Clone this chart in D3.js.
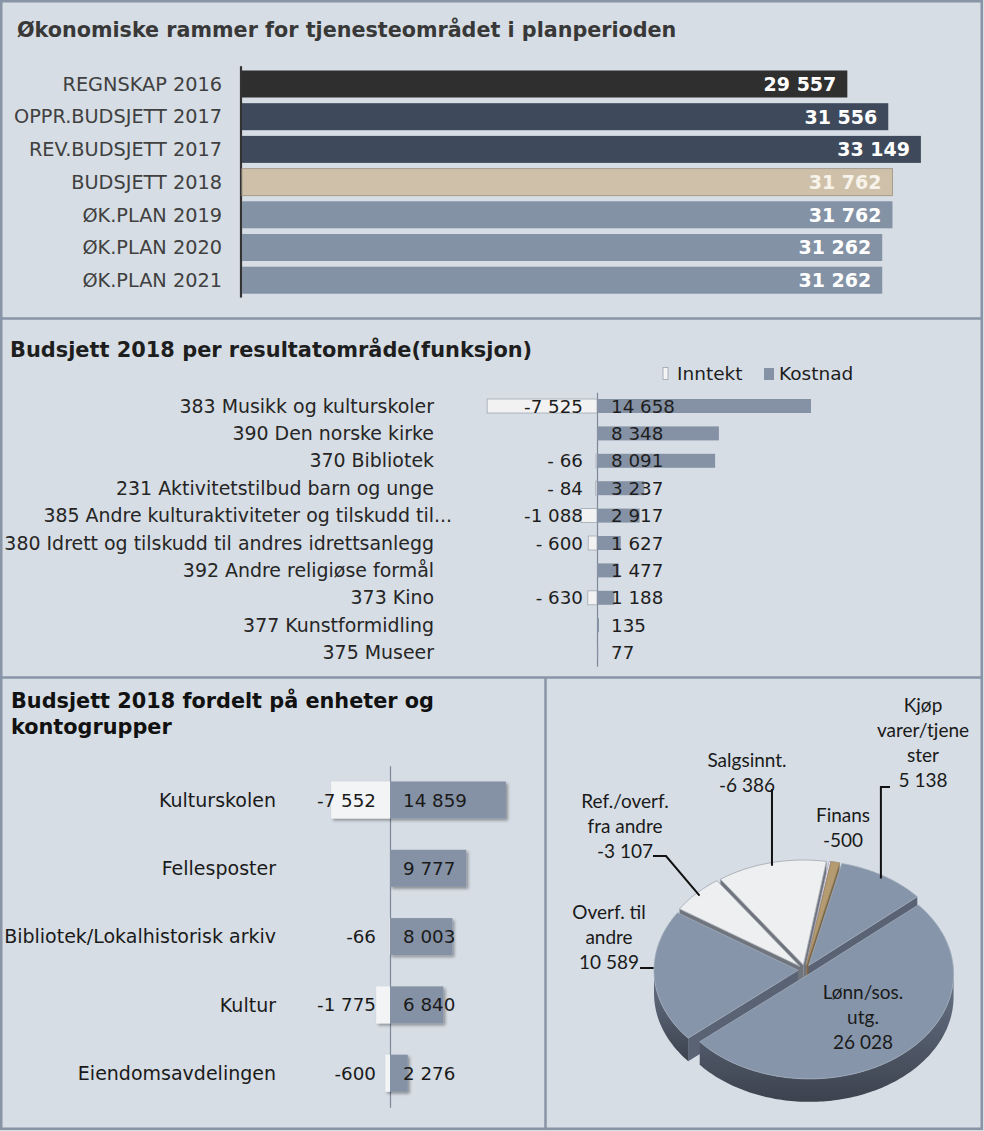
<!DOCTYPE html>
<html><head><meta charset="utf-8">
<script src="https://cdn.jsdelivr.net/npm/d3@7"></script>
<style>body{margin:0;background:#fff}svg{display:block}</style>
</head><body><svg id="c" width="984" height="1131"></svg>
<script>
// ---------------- data ----------------
const title1 = "Økonomiske rammer for tjenesteområdet i planperioden";
const frameCategories = ["REGNSKAP 2016","OPPR.BUDSJETT 2017","REV.BUDSJETT 2017","BUDSJETT 2018","ØK.PLAN 2019","ØK.PLAN 2020","ØK.PLAN 2021"];
const frameValues = [29557,31556,33149,31762,31762,31262,31262];

const title2 = "Budsjett 2018 per resultatområde(funksjon)";
const seriesNames = ["Inntekt","Kostnad"];
const functionCategories = ["383 Musikk og kulturskoler","390 Den norske kirke","370 Bibliotek","231 Aktivitetstilbud barn og unge","385 Andre kulturaktiviteter og tilskudd til...","380 Idrett og tilskudd til andres idrettsanlegg","392 Andre religiøse formål","373 Kino","377 Kunstformidling","375 Museer"];
const functionIncome = [-7525,null,-66,-84,-1088,-600,null,-630,null,null];
const functionCost = [14658,8348,8091,3237,2917,1627,1477,1188,135,77];

const title3 = ["Budsjett 2018 fordelt på enheter og","kontogrupper"];
const unitCategories = ["Kulturskolen","Fellesposter","Bibliotek/Lokalhistorisk arkiv","Kultur","Eiendomsavdelingen"];
const unitIncome = [-7552,null,-66,-1775,-600];
const unitCost = [14859,9777,8003,6840,2276];

const accountLabels = [["Lønn/sos.","utg."],["Overf. til","andre"],["Ref./overf.","fra andre"],["Salgsinnt."],[],["Finans"],["Kjøp","varer/tjene","ster"]];
const accountValues = [26028,10589,-3107,-6386,-100,-500,5138];

// ---------------- styles ----------------
const FONT = "'DejaVu Sans', Verdana, sans-serif";
const BG = "#d6dde4", BORDER = "#8795a7";
const frameColors = ["#2f2f2f","#3e4a5b","#3e4a5b","#cfc1a9","#8492a6","#8492a6","#8492a6"];
const frameValueColors = ["#fff","#fff","#fff","#f7f3ea","#fff","#fff","#fff"];
const BLUE = "#8695a9";
const pieStyles = [
  {top:BLUE, wall:"url(#wallBlue)", cut:"#596373", stroke:"#9fabbb"},
  {top:BLUE, wall:"url(#wallBlue)", cut:"#596373", stroke:"#9fabbb"},
  {top:"#eeeff1", wall:"#a9adb4", cut:"#6f747d", stroke:"#a0a5ad"},
  {top:"#eeeff1", wall:"#a9adb4", cut:"#6f747d", stroke:"#a0a5ad"},
  {top:"#f2f1f6", wall:"#b7b5c4", cut:"#9b98ad", stroke:"#a8a4c0"},
  {top:"#b49b72", wall:"#8a7452", cut:"#7b6646", stroke:"#9c8660"},
  {top:BLUE, wall:"url(#wallBlue)", cut:"#596373", stroke:"#9fabbb"}
];

const loc = d3.formatLocale({decimal:",", thousands:" ", grouping:[3], currency:["",""], minus:"-"});
const fmt = loc.format(",d");
const fmtSpaced = v => (v < 0 && v > -1000) ? "- " + fmt(-v) : fmt(v);

const svg = d3.select("#c");
const defs = svg.append("defs");
const f = defs.append("filter").attr("id","sh").attr("x","-20%").attr("y","-20%").attr("width","150%").attr("height","160%");
f.append("feDropShadow").attr("dx",2).attr("dy",2).attr("stdDeviation",1.5).attr("flood-color","#000").attr("flood-opacity",0.35);
const g1 = defs.append("linearGradient").attr("id","wallBlue").attr("x1",0).attr("y1",0).attr("x2",0).attr("y2",1);
g1.append("stop").attr("offset","0%").attr("stop-color","#687487");
g1.append("stop").attr("offset","100%").attr("stop-color","#3c424e");

svg.append("rect").attr("width",984).attr("height",1131).attr("fill",BG);

// ---------------- panel 1 ----------------
svg.append("text").attr("x",17).attr("y",37).attr("font-family",FONT).attr("font-weight","bold")
  .attr("font-size",20.7).attr("fill","#383838").text(title1);

const x1 = d3.scaleLinear().domain([0,35000]).range([242, 242 + 35000*0.02048]);
const y1 = d3.scaleBand().domain(frameCategories).range([67.65, 67.65 + 7*32.7]).paddingInner(0.174).paddingOuter(0.087);
const ax1 = svg.append("g").attr("transform","translate(241,0)")
  .call(d3.axisLeft(y1).tickSize(0).tickSizeOuter(0).tickPadding(19));
ax1.select(".domain").attr("stroke","#333").attr("stroke-width",2.2)
  .attr("d", `M0,${y1.range()[0]-1.5}V${y1.range()[1]+1}`);
ax1.selectAll("text").attr("font-family",FONT).attr("font-size",19.3).attr("fill","#404040").attr("dy","0.35em");

svg.append("g").selectAll("rect").data(frameValues).join("rect")
  .attr("x", x1(0)).attr("y", (d,i) => y1(frameCategories[i]))
  .attr("width", d => x1(d) - x1(0)).attr("height", y1.bandwidth())
  .attr("fill", (d,i) => frameColors[i])
  .attr("stroke", (d,i) => i === 3 ? "#a69c8d" : "none").attr("stroke-width",1);
svg.append("g").selectAll("text").data(frameValues).join("text")
  .attr("x", d => x1(d) - 11).attr("y", (d,i) => y1(frameCategories[i]) + y1.bandwidth()/2)
  .attr("dy","0.36em").attr("text-anchor","end").attr("font-family",FONT).attr("font-weight","bold")
  .attr("font-size",19).attr("fill",(d,i) => frameValueColors[i]).text(d => fmt(d));

// ---------------- panel 2 ----------------
svg.append("text").attr("x",10).attr("y",357).attr("font-family",FONT).attr("font-weight","bold")
  .attr("font-size",20.9).attr("fill","#1e1e1e").text(title2);

// legend
const lg = svg.append("g").attr("font-family",FONT).attr("font-size",18.5).attr("fill","#1e1e1e");
lg.append("rect").attr("x",663).attr("y",367.5).attr("width",5).attr("height",12).attr("fill","#f4f4f4").attr("stroke","#9aa3ae").attr("stroke-width",0.8);
lg.append("text").attr("x",677).attr("y",380).text(seriesNames[0]);
lg.append("rect").attr("x",764).attr("y",368).attr("width",10).attr("height",12).attr("fill","#8592a5");
lg.append("text").attr("x",779).attr("y",380).text(seriesNames[1]);

const x2 = d3.scaleLinear().domain([-10000,20000]).range([597 - 146, 597 + 292]);
const y2 = d3.scaleBand().domain(functionCategories).range([392.3, 392.3 + 10*27.4]).paddingInner(0.489).paddingOuter(0.2445);
const ax2 = svg.append("g").attr("transform",`translate(${x2(0)},0)`)
  .call(d3.axisLeft(y2).tickSize(0).tickSizeOuter(0).tickPadding(163));
ax2.select(".domain").attr("stroke","#7d889b").attr("stroke-width",1.2);
ax2.selectAll("text").attr("font-family",FONT).attr("font-size",18.95).attr("fill","#262626").attr("dy","0.35em");
// truncated labels: let the ellipsis hang past the label edge
const tmp = ax2.append("text").attr("font-family",FONT).attr("font-size",18.95).text("...");
const dotsW = tmp.node().getComputedTextLength(); tmp.remove();
ax2.selectAll(".tick text").filter(function(){ return this.textContent.endsWith("..."); })
  .attr("x", -163 + dotsW);

const bars2 = svg.append("g");
functionIncome.forEach((v,i) => {
  if (v == null) return;
  bars2.append("rect").attr("x", x2(v)).attr("y", y2(functionCategories[i]))
    .attr("width", x2(0) - x2(v)).attr("height", y2.bandwidth())
    .attr("fill","#f2f2f2").attr("stroke","#a0a8b3").attr("stroke-width",0.8);
});
bars2.selectAll("rect.cost").data(functionCost).join("rect").attr("class","cost")
  .attr("x", x2(0)).attr("y", (d,i) => y2(functionCategories[i]))
  .attr("width", d => x2(d) - x2(0)).attr("height", y2.bandwidth()).attr("fill","#8592a5");
const lab2 = svg.append("g").attr("font-family",FONT).attr("font-size",18.3).attr("fill","#1e1e1e");
functionIncome.forEach((v,i) => {
  if (v == null) return;
  lab2.append("text").attr("x", x2(0) - 14).attr("y", y2(functionCategories[i]) + y2.bandwidth()/2)
    .attr("dy","0.36em").attr("text-anchor","end").text(fmtSpaced(v));
});
functionCost.forEach((v,i) => {
  lab2.append("text").attr("x", x2(0) + 14).attr("y", y2(functionCategories[i]) + y2.bandwidth()/2)
    .attr("dy","0.36em").text(fmt(v));
});

// ---------------- panel 3 ----------------
const t3 = svg.append("text").attr("font-family",FONT).attr("font-weight","bold").attr("font-size",20.8).attr("fill","#111");
title3.forEach((s,i) => t3.append("tspan").attr("x",11).attr("y",708 + i*25.5).text(s));

const x3 = d3.scaleLinear().domain([-10000,20000]).range([390 - 78, 390 + 156]);
const y3 = d3.scaleBand().domain(unitCategories).range([765.85, 765.85 + 5*68.3]).paddingInner(0.458).paddingOuter(0.229);
const ax3 = svg.append("g").attr("transform",`translate(${x3(0)},0)`)
  .call(d3.axisLeft(y3).tickSize(0).tickSizeOuter(0).tickPadding(114));
ax3.select(".domain").attr("stroke","#7d889b").attr("stroke-width",1.2);
ax3.selectAll("text").attr("font-family",FONT).attr("font-size",19).attr("fill","#1a1a1a").attr("dy","0.35em");

const bars3 = svg.append("g").attr("filter","url(#sh)");
unitIncome.forEach((v,i) => {
  if (v == null) return;
  bars3.append("rect").attr("x", x3(v)).attr("y", y3(unitCategories[i]))
    .attr("width", x3(0) - x3(v)).attr("height", y3.bandwidth()).attr("fill","#f3f4f5");
});
bars3.selectAll("rect.cost").data(unitCost).join("rect").attr("class","cost")
  .attr("x", x3(0)).attr("y", (d,i) => y3(unitCategories[i]))
  .attr("width", d => x3(d) - x3(0)).attr("height", y3.bandwidth()).attr("fill","#8592a5");
const lab3 = svg.append("g").attr("font-family",FONT).attr("font-size",18.3).attr("fill","#1a1a1a");
unitIncome.forEach((v,i) => {
  if (v == null) return;
  lab3.append("text").attr("x", x3(0) - 14).attr("y", y3(unitCategories[i]) + y3.bandwidth()/2)
    .attr("dy","0.36em").attr("text-anchor","end").text(fmt(v));
});
unitCost.forEach((v,i) => {
  lab3.append("text").attr("x", x3(0) + 13).attr("y", y3(unitCategories[i]) + y3.bandwidth()/2)
    .attr("dy","0.36em").text(fmt(v));
});

// ---------------- panel 4: 3D pie ----------------
const PC = {cx:805, cy:970, rx:144, ry:105, h:23, ex:7};
const a0 = 49*Math.PI/180;
const pieGen = d3.pie().sort(null).value(d => Math.abs(d)).startAngle(a0).endAngle(a0 + 2*Math.PI);
const arcs = pieGen(accountValues);
const P = (a, r, o, z) => [PC.cx + o[0] + r*PC.rx*Math.sin(a), PC.cy + o[1] - r*PC.ry*Math.cos(a) + (z||0)];
const arcPts = (s, e, o, z) => { const n = Math.max(2, Math.ceil(Math.abs(e-s)/0.02)); const p=[]; for(let i=0;i<=n;i++) p.push(P(s+(e-s)*i/n,1,o,z)); return p; };
const ln = d3.line();
const faces = [];
arcs.forEach((d,i) => {
  const mid = (d.startAngle + d.endAngle)/2;
  const o = [PC.ex*Math.sin(mid), -PC.ex*Math.cos(mid)*PC.ry/PC.rx];
  d.o = o; d.mid = mid;
  const st = pieStyles[i];
  for (let k=0;k<2;k++){
    const lo = Math.max(d.startAngle, Math.PI/2 + 2*Math.PI*k), hi = Math.min(d.endAngle, 3*Math.PI/2 + 2*Math.PI*k);
    if (hi > lo) {
      const pts = arcPts(lo, hi, o, 0).concat(arcPts(hi, lo, o, PC.h));
      faces.push({d: ln(pts) + "Z", fill: st.wall, key: d3.max(pts, p => p[1])});
    }
  }
  [[d.startAngle, d.startAngle - Math.PI/2],[d.endAngle, d.endAngle + Math.PI/2]].forEach(([a, n]) => {
    if (Math.cos(n) < 0) {
      const c0 = P(0,0,o,0), e0 = P(a,1,o,0), e1 = P(a,1,o,PC.h), c1 = P(0,0,o,PC.h);
      faces.push({d: ln([c0,e0,e1,c1]) + "Z", fill: st.cut, key: (c0[1]+e0[1])/2 + PC.h/2});
    }
  });
});
faces.sort((a,b) => a.key - b.key);
const pg = svg.append("g");
pg.selectAll("path.side").data(faces).join("path").attr("class","side").attr("d", d => d.d).attr("fill", d => d.fill);
pg.selectAll("path.top").data(arcs).join("path").attr("class","top")
  .attr("d", d => ln([P(0,0,d.o,0)].concat(arcPts(d.startAngle, d.endAngle, d.o, 0))) + "Z")
  .attr("fill", (d,i) => pieStyles[i].top).attr("stroke", (d,i) => pieStyles[i].stroke).attr("stroke-width",0.8);

// labels (layout positions: centre of first line) and leader lines
const pieLabelPos = [[863,992],[609,912],[625,801],[747,760],null,[843,815],[923,705]];
const leaderStart = [null,[640,968],[653,856],[771,790],null,null,[890,787]];
const leaderStyle = [null,"h",[666,856],"v",null,null,"v"];
const plg = svg.append("g").attr("font-family","Lato, 'Open Sans', sans-serif").attr("font-size",19).attr("fill","#1a1a1a").attr("text-anchor","middle");
arcs.forEach((d,i) => {
  const pos = pieLabelPos[i];
  if (!pos) return;
  const lines = accountLabels[i].concat([fmt(accountValues[i])]);
  const t = plg.append("text");
  lines.forEach((s,j) => t.append("tspan").attr("x",pos[0]).attr("y",pos[1] + j*25).attr("dy","0.35em").text(s));
  const s = leaderStart[i];
  if (s) {
    const rim = P(d.mid, 0.97, d.o, 0);
    let pts;
    const sty = leaderStyle[i];
    if (sty === "v") pts = [s, [rim[0], s[1]], rim];
    else if (sty === "h") pts = [s, [rim[0] - 5, s[1]]];
    else pts = [s, sty, rim];
    svg.append("path").attr("d", ln(pts)).attr("fill","none").attr("stroke","#111").attr("stroke-width",2);
  }
});

// ---------------- frame ----------------
const fr = svg.append("g").attr("stroke",BORDER).attr("stroke-width",2.5).attr("fill","none");
fr.append("rect").attr("x",1.25).attr("y",1.25).attr("width",980.5).attr("height",1127.5);
fr.append("line").attr("x1",0).attr("x2",983).attr("y1",318.5).attr("y2",318.5);
fr.append("line").attr("x1",0).attr("x2",983).attr("y1",677.5).attr("y2",677.5);
fr.append("line").attr("x1",545.5).attr("x2",545.5).attr("y1",677).attr("y2",1130);
</script></body></html>
